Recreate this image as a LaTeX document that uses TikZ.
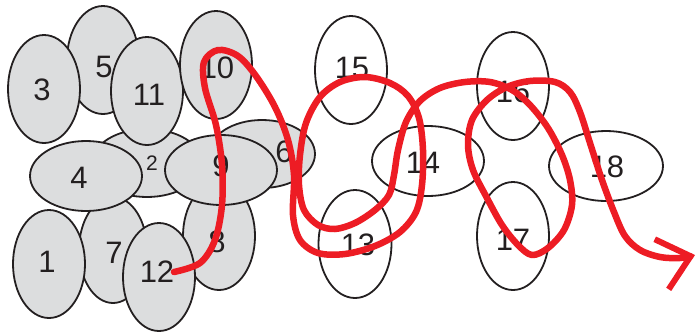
\documentclass[tikz,border=0pt]{standalone}
\usepackage{fontspec}
\setmainfont{Liberation Sans}
\usetikzlibrary{shapes.geometric,arrows.meta}
\definecolor{cellgray}{HTML}{DCDDDE}
\definecolor{outl}{HTML}{231F20}
\definecolor{redline}{HTML}{ED1C24}
\tikzset{
  cell/.style={ellipse, draw=outl, line width=1.8pt, inner sep=0pt, fill=cellgray},
  wcell/.style={cell, fill=white},
  tall/.style={minimum width=72pt, minimum height=108pt},
  wide/.style={minimum width=112pt, minimum height=70pt},
  num/.style={font=\fontsize{31}{31}\selectfont, text=outl, inner sep=0pt},
  smallnum/.style={font=\fontsize{21}{21}\selectfont, text=outl, inner sep=0pt},
  path/.style={draw=redline, line width=6.5pt, line cap=round, line join=round},
}
\begin{document}
\begin{tikzpicture}[x=1pt, y=-1pt]
\useasboundingbox (0,0) rectangle (697,333);
% gray cluster
\node[cell, tall] (c5) at (103,60) {};
\node[num] (t5) at (104,67) {5};
\node[cell, tall] (c3) at (44,89) {};
\node[num] (t3) at (42,90) {3};
\node[cell, minimum width=110pt, minimum height=68pt] (c2) at (147,163) {};
\node[smallnum] (t2) at (152,163) {2};
\node[cell, tall] (c11) at (147,91) {};
\node[num] (t11) at (149,95) {11};
\node[cell, tall] (c10) at (216,65) {};
\node[num] (t10) at (217,68) {10};
\node[cell, minimum width=106pt, minimum height=68pt] (c6) at (262,154) {};
\node[num] (t6) at (284,152) {6};
\node[cell, tall] (c8) at (219,236) {};
\node[num] (t8) at (217,242) {8};
\node[cell, wide] (c9) at (221,170) {};
\node[num] (t9) at (221,166) {9};
\node[cell, minimum width=68pt, minimum height=106pt] (c7) at (113,250) {};
\node[num] (t7) at (114,253) {7};
\node[cell, wide] (c4) at (86,176) {};
\node[num] (t4) at (79,178) {4};
\node[cell, tall] (c12) at (159,277) {};
\node[num] (t12) at (157,272) {12};
\node[cell, tall] (c1) at (49,264) {};
\node[num] (t1) at (47,262) {1};
% white cells
\node[wcell, tall] (c15) at (351,70) {};
\node[num] (t15) at (352,68) {15};
\node[wcell, wide] (c14) at (428,161) {};
\node[num] (t14) at (423,163) {14};
\node[wcell, minimum width=73pt, minimum height=108pt] (c13) at (355,244) {};
\node[num] (t13) at (358,245) {13};
\node[wcell, tall] (c16) at (513,86) {};
\node[num] (t16) at (513,92) {16};
\node[wcell, tall] (c17) at (513,236) {};
\node[num] (t17) at (513,240) {17};
\node[wcell, minimum width=114pt, minimum height=70pt] (c18) at (606,166) {};
\node[num] (t18) at (607,167) {18};
% red path
\coordinate (pstart) at (174,272);
\coordinate (pend) at (695,255);
\draw[path, -{Straight Barb[length=30pt, width=52pt, line width=6pt]}]
  plot[smooth, tension=0.55] coordinates {
  (pstart) (200,263) (215,240) (222,205) (222,165) (216,125) (205,88) (204,62)
  (218,50) (238,56) (256,76) (275,107) (288,140) (294,175) (293,215) (300,240)
  (318,253) (345,254) (375,246) (400,232) (416,212) (422,185) (423,150) (419,118)
  (408,96) (390,83) (365,77) (340,82) (320,97) (306,123) (300,155) (299,185)
  (304,210) (318,225) (335,229) (355,223) (375,210) (389,195) (394,175) (398,150)
  (406,122) (420,101) (440,88) (465,82) (490,82) (512,90) (530,105) (548,128)
  (562,155) (570,180) (572,205) (564,230) (548,248) (532,255) (518,245) (502,225)
  (487,198) (473,170) (468,145) (472,120) (487,100) (507,87) (530,81) (555,82)
  (570,92) (580,112) (590,143) (602,180) (614,212) (625,236) (640,250) (660,257)
  (680,258) (pend)};
\end{tikzpicture}
\end{document}
